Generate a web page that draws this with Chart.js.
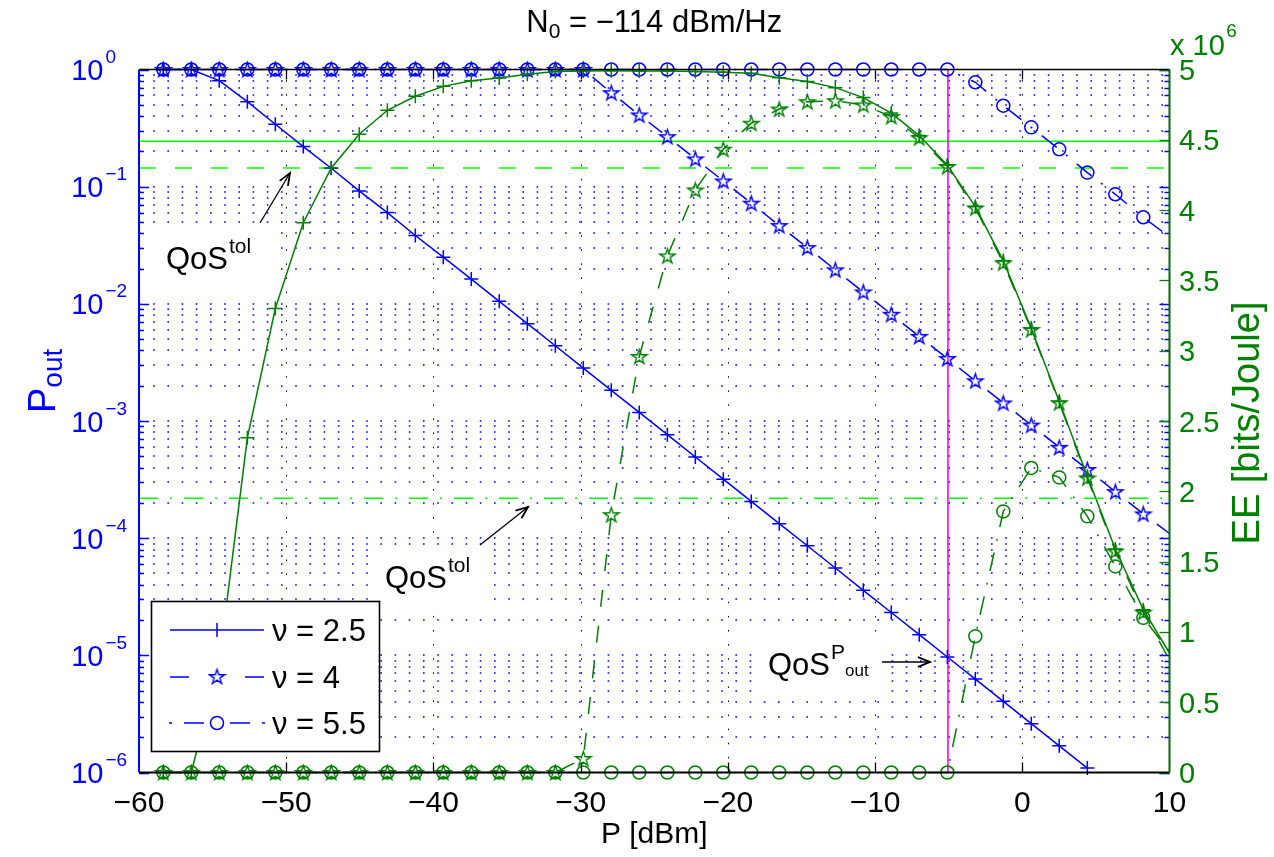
<!DOCTYPE html>
<html><head><meta charset="utf-8">
<script src="https://cdn.jsdelivr.net/npm/chart.js@4.4.0/dist/chart.umd.min.js"></script>
<style>html,body{margin:0;padding:0;background:#fff;}#wrap{width:1274px;height:857px;}</style>
</head><body><div id="wrap"><canvas id="c" width="1274" height="857"></canvas></div>
<script>
// ---------- data ----------
const pDbm = [-58.35,-56.45,-54.55,-52.64,-50.74,-48.84,-46.94,-45.04,-43.13,-41.23,-39.33,-37.43,-35.53,-33.62,-31.72,-29.82,-27.92,-26.02,-24.11,-22.21,-20.31,-18.41,-16.51,-14.60,-12.70,-10.80,-8.90,-7.00,-5.09,-3.19,-1.29,0.61,2.51,4.42,6.32,8.22,10];
const poutNu25 = [1,1,0.8028,0.5313,0.3412,0.2198,0.1436,0.0920,0.06012,0.03828,0.02500,0.01626,0.01050,0.006776,0.004385,0.002831,0.001828,0.001183,7.64e-4,4.93e-4,3.19e-4,2.06e-4,1.33e-4,8.61e-5,5.56e-5,3.59e-5,2.32e-5,1.50e-5,9.68e-6,6.27e-6,4.05e-6,2.61e-6,1.69e-6,1.09e-6,null,null,null];
const poutNu4 = [1,1,1,1,1,1,1,1,1,1,1,1,1,1,1,1,0.6339,0.4093,0.2673,0.1726,0.1119,0.07228,0.04656,0.03020,0.01950,0.01262,0.008147,0.005272,0.003412,0.002203,0.001426,0.0009226,0.0005957,0.0003855,0.0002495,0.0001611,0.0001096];
const poutNu55 = [1,1,1,1,1,1,1,1,1,1,1,1,1,1,1,1,1,1,1,1,1,1,1,1,1,1,1,1,1,0.778,0.491,0.321,0.2085,0.1318,0.0861,0.0548,0.0372];
const eeNu25 = [0,0,0.78,2.38,3.30,3.91,4.30,4.54,4.71,4.81,4.88,4.92,4.94,4.967,4.985,4.989,4.991,4.99,4.989,4.985,4.98,4.973,4.942,4.914,4.871,4.80,4.69,4.53,4.32,4.025,3.639,3.16,2.639,2.106,1.59,1.158,0.85];
const eeNu4 = [0,0,0,0,0,0,0,0,0,0,0,0,0,0,0,0.1,1.834,2.959,3.674,4.143,4.433,4.618,4.719,4.771,4.778,4.748,4.665,4.515,4.31,4.015,3.625,3.15,2.63,2.095,1.575,1.14,0.80];
const eeNu55 = [0,0,0,0,0,0,0,0,0,0,0,0,0,0,0,0,0,0,0,0,0,0,0,0,0,0,0,0,0,0.969,1.857,2.166,2.099,1.822,1.466,1.10,0.86];
const qosTolEE = [4.49, 4.30, 1.95];      // solid, dashed, dash-dot (x10^6)
const qosPoutP = -5.05;                    // dBm
const xTicks = [-60,-50,-40,-30,-20,-10,0,10];
const yDecades = [-6,-5,-4,-3,-2,-1,0];
const yMinorMant = [2,3,4,5,6,7,8,9];
const eeTicks = [0,0.5,1,1.5,2,2.5,3,3.5,4,4.5,5];
const eeTickLabels = ['0','0.5','1','1.5','2','2.5','3','3.5','4','4.5','5'];
const legendLabels = ['\u03bd = 2.5','\u03bd = 4','\u03bd = 5.5'];

// ---------- styles ----------
const BLUE='#0000ff', GREEN='#008000', LIME='#00ff00', MAG='#ff00ff', RGREEN='#006b00';
const FONT='"Liberation Sans", Arial, Helvetica, sans-serif';
const DASH=[17,19], DASHDOT=[19,12,2,12];
function starCanvas(color){
  const c=document.createElement('canvas'); c.width=c.height=19;
  const g=c.getContext('2d'); g.strokeStyle=color; g.lineWidth=1.4; g.lineJoin='miter';
  g.beginPath(); const R=7.8, r=3.0;
  for(let i=0;i<10;i++){ const a=-Math.PI/2+i*Math.PI/5; const rr=i%2?r:R;
    const px=9.5+rr*Math.cos(a), py=10.2+rr*Math.sin(a); i?g.lineTo(px,py):g.moveTo(px,py); }
  g.closePath(); g.stroke(); return c;
}
const starBlue=starCanvas(BLUE), starGreen=starCanvas(GREEN);
const lastIdx=pDbm.length-1;
const rad=r=>(c)=>c.dataIndex===lastIdx?0:r;
const pts=ys=>pDbm.map((x,i)=>({x, y: ys[i]}));
function series(ys, axis, color, style, dash, r){
  return {data:pts(ys), yAxisID:axis, borderColor:color, borderWidth:1.5, borderDash:dash, fill:false, tension:0,
    clip:false, pointStyle:style, pointRadius:rad(r), pointHoverRadius:0, pointBorderColor:color,
    pointBackgroundColor:'rgba(0,0,0,0)', pointBorderWidth:1.5};
}
const xMin=xTicks[0], xMax=xTicks[xTicks.length-1];
const yMin=Math.pow(10,yDecades[0]), yMax=Math.pow(10,yDecades[yDecades.length-1]);
function refLine(v, dash){
  return {data:[{x:xMin,y:v},{x:xMax,y:v}], yAxisID:'y2', borderColor:LIME, borderWidth:1.5, borderDash:dash, pointRadius:0, clip:false};
}
const datasets=[
  series(eeNu25,'y2',GREEN,'cross',[],7),
  series(eeNu4,'y2',GREEN,starGreen,DASH,7),
  series(eeNu55,'y2',GREEN,'circle',DASHDOT,6.5),
  series(poutNu25,'y',BLUE,'cross',[],7),
  series(poutNu4,'y',BLUE,starBlue,DASH,7),
  series(poutNu55,'y',BLUE,'circle',DASHDOT,6.5),
  {data:[{x:qosPoutP,y:yMin},{x:qosPoutP,y:yMax}], yAxisID:'y', borderColor:MAG, borderWidth:1.6, pointRadius:0, clip:false},
  refLine(qosTolEE[0],[]), refLine(qosTolEE[1],DASH), refLine(qosTolEE[2],DASHDOT)
];

// annotation boxes (text layout)
const annots=[
  {tx:166, ty:269, sup:'tol', box:[153,229,270,282], arrow:[260,223,290,173]},
  {tx:385, ty:588, sup:'tol', box:[370,545,487,605], arrow:[480,545,528,507]},
  {tx:768, ty:675, sup:'P', sub:'out', box:[760,639,879,692], arrow:[882,662,930,662]}
];

function arrowHead(ctx,x0,y0,x1,y1){
  const a=Math.atan2(y1-y0,x1-x0), L=13, w=0.38;
  ctx.beginPath();
  ctx.moveTo(x1-L*Math.cos(a-w), y1-L*Math.sin(a-w)); ctx.lineTo(x1,y1);
  ctx.lineTo(x1-L*Math.cos(a+w), y1-L*Math.sin(a+w)); ctx.stroke();
}

const deco={
  id:'deco',
  beforeDraw(chart){ const c=chart.ctx; c.save(); c.fillStyle='#fff'; c.fillRect(0,0,chart.width,chart.height); c.restore(); },
  beforeDatasetsDraw(chart){
    const {ctx, chartArea:a, scales:{x,y}}=chart;
    ctx.save();
    // horizontal dotted grid (blue)
    ctx.strokeStyle=BLUE; ctx.lineWidth=1.6; ctx.setLineDash([1.6,12.6]);
    const gv=[];
    yDecades.forEach(e=>{ gv.push(Math.pow(10,e)); if(e<0) yMinorMant.forEach(m=>gv.push(m*Math.pow(10,e))); });
    gv.forEach(v=>{ const py=Math.round(y.getPixelForValue(v)); if(py<=a.top+1||py>=a.bottom-1) return;
      ctx.beginPath(); ctx.moveTo(a.left,py); ctx.lineTo(a.right,py); ctx.stroke(); });
    // vertical dotted grid (black)
    ctx.strokeStyle='#000'; ctx.lineWidth=1; ctx.setLineDash([1.5,12.6]);
    xTicks.forEach(v=>{ const px=Math.round(x.getPixelForValue(v))+0.5; if(px<=a.left+2||px>=a.right-2) return;
      ctx.beginPath(); ctx.moveTo(px,a.bottom); ctx.lineTo(px,a.top); ctx.stroke(); });
    ctx.setLineDash([]);
    // white text boxes
    ctx.fillStyle='#fff';
    annots.forEach(o=>{ const b=o.box; ctx.fillRect(b[0],b[1],b[2]-b[0],b[3]-b[1]); });
    ctx.restore();
  },
  afterDatasetsDraw(chart){
    const {ctx, chartArea:a, scales:{x,y,y2}}=chart;
    ctx.save(); ctx.setLineDash([]);
    // tick marks
    ctx.lineWidth=1.3; ctx.strokeStyle='#000';
    xTicks.forEach(v=>{ const px=Math.round(x.getPixelForValue(v))+0.5; if(px<=a.left+2||px>=a.right-2) return;
      ctx.beginPath(); ctx.moveTo(px,a.bottom); ctx.lineTo(px,a.bottom-10); ctx.moveTo(px,a.top); ctx.lineTo(px,a.top+10); ctx.stroke(); });
    ctx.strokeStyle=BLUE; ctx.lineWidth=1.3;
    yDecades.forEach(e=>{
      const py=Math.round(y.getPixelForValue(Math.pow(10,e)))+0.5;
      ctx.beginPath(); ctx.moveTo(a.left,py); ctx.lineTo(a.left+10,py); ctx.moveTo(a.right,py); ctx.lineTo(a.right-10,py); ctx.stroke();
      if(e<0) yMinorMant.forEach(m=>{ const q=Math.round(y.getPixelForValue(m*Math.pow(10,e)))+0.5;
        ctx.beginPath(); ctx.moveTo(a.left,q); ctx.lineTo(a.left+5,q); ctx.moveTo(a.right,q); ctx.lineTo(a.right-5,q); ctx.stroke(); });
    });
    ctx.strokeStyle=GREEN; ctx.lineWidth=1.3;
    eeTicks.forEach(v=>{ const py=Math.round(y2.getPixelForValue(v))+0.5;
      ctx.beginPath(); ctx.moveTo(a.right,py); ctx.lineTo(a.right-10,py); ctx.stroke(); });
    // axis lines
    ctx.lineWidth=1.6; ctx.strokeStyle='#000';
    ctx.beginPath(); ctx.moveTo(a.left,a.top); ctx.lineTo(a.right,a.top); ctx.stroke();
    ctx.lineWidth=2;
    ctx.beginPath(); ctx.moveTo(a.left,a.bottom); ctx.lineTo(a.right,a.bottom); ctx.stroke();
    ctx.strokeStyle=BLUE; ctx.beginPath(); ctx.moveTo(a.left,a.top); ctx.lineTo(a.left,a.bottom); ctx.stroke();
    ctx.strokeStyle=RGREEN; ctx.beginPath(); ctx.moveTo(a.right,a.top); ctx.lineTo(a.right,a.bottom); ctx.stroke();

    // x tick labels
    ctx.fillStyle='#000'; ctx.textBaseline='alphabetic';
    ctx.font='30px '+FONT; ctx.textAlign='center';
    xTicks.forEach(v=>{ const px=x.getPixelForValue(v); ctx.fillText(v<0?'\u2212'+Math.abs(v):String(v), px, 811.5); });
    // left labels
    ctx.fillStyle=BLUE;
    yDecades.forEach(e=>{ const py=y.getPixelForValue(Math.pow(10,e));
      ctx.font='29px '+FONT; ctx.textAlign='right'; ctx.fillText('10',103.5,py+10.5);
      ctx.font='19px '+FONT; ctx.textAlign='left'; ctx.fillText(e<0?'\u2212'+(-e):String(e),105.5,py-6.5); });
    // right labels
    ctx.fillStyle=GREEN; ctx.font='29px '+FONT; ctx.textAlign='left';
    eeTicks.forEach((v,i)=>{ const py=y2.getPixelForValue(v); ctx.fillText(eeTickLabels[i],1179,py+10.5); });
    ctx.fillText('x 10',1170,55);
    const wx=ctx.measureText('x 10').width;
    ctx.font='19px '+FONT; ctx.fillText('6',1170+wx+1.5,37);

    // title
    ctx.fillStyle='#000';
    const tp=[['N',31,0],['0',21,6],[' = \u2212114 dBm/Hz',31,0]];
    let tw=0; tp.forEach(p=>{ctx.font=p[1]+'px '+FONT; tw+=ctx.measureText(p[0]).width;});
    let tx=(a.left+a.right)/2-tw/2; ctx.textAlign='left';
    tp.forEach(p=>{ctx.font=p[1]+'px '+FONT; ctx.fillText(p[0],tx,32+p[2]); tx+=ctx.measureText(p[0]).width;});
    // x title
    ctx.font='30px '+FONT; ctx.textAlign='center'; ctx.fillText('P [dBm]',(a.left+a.right)/2,843);
    // left y title
    ctx.save(); ctx.translate(55,413); ctx.rotate(-Math.PI/2);
    ctx.fillStyle=BLUE; ctx.textAlign='left';
    ctx.font='38px '+FONT; const wP=ctx.measureText('P').width; ctx.fillText('P',0,0);
    ctx.font='28px '+FONT; ctx.fillText('out',wP,7);
    ctx.restore();
    // right y title
    ctx.save(); ctx.translate(1259,(a.top+a.bottom)/2+2); ctx.rotate(-Math.PI/2);
    ctx.fillStyle=GREEN; ctx.font='38px '+FONT; ctx.textAlign='center'; ctx.fillText('EE [bits/Joule]',0,0);
    ctx.restore();

    // annotations
    ctx.fillStyle='#000'; ctx.strokeStyle='#000'; ctx.textAlign='left';
    annots.forEach(o=>{
      ctx.font='31px '+FONT; ctx.fillText('QoS',o.tx,o.ty); const w=ctx.measureText('QoS').width;
      ctx.font='21px '+FONT; ctx.fillText(o.sup,o.tx+w+1,o.ty-16);
      if(o.sub){ const ws=ctx.measureText(o.sup).width; ctx.font='17px '+FONT; ctx.fillText(o.sub,o.tx+w+1+ws,o.ty+1); }
      const ar=o.arrow; ctx.lineWidth=1.3; ctx.beginPath(); ctx.moveTo(ar[0],ar[1]); ctx.lineTo(ar[2],ar[3]); ctx.stroke();
      ctx.lineWidth=1.8; arrowHead(ctx,ar[0],ar[1],ar[2],ar[3]);
    });

    // legend
    const L=[151,601,379,751];
    ctx.fillStyle='#fff'; ctx.fillRect(L[0],L[1],L[2]-L[0],L[3]-L[1]);
    ctx.strokeStyle='#000'; ctx.lineWidth=1.6; ctx.strokeRect(L[0]+0.5,L[1]+0.5,L[2]-L[0],L[3]-L[1]);
    const rows=[630,677,723], mx=217;
    ctx.strokeStyle=BLUE; ctx.lineWidth=1.5;
    ctx.beginPath(); ctx.moveTo(170,rows[0]); ctx.lineTo(264,rows[0]);
    ctx.moveTo(mx-7,rows[0]); ctx.lineTo(mx+7,rows[0]); ctx.moveTo(mx,rows[0]-7); ctx.lineTo(mx,rows[0]+7); ctx.stroke();
    ctx.beginPath(); ctx.moveTo(170,rows[1]); ctx.lineTo(189,rows[1]); ctx.moveTo(245,rows[1]); ctx.lineTo(264,rows[1]); ctx.stroke();
    ctx.drawImage(starBlue,mx-9.5,rows[1]-10);
    ctx.beginPath(); ctx.moveTo(169,rows[2]); ctx.lineTo(172,rows[2]); ctx.moveTo(184,rows[2]); ctx.lineTo(204,rows[2]);
    ctx.moveTo(230,rows[2]); ctx.lineTo(250,rows[2]); ctx.moveTo(262,rows[2]); ctx.lineTo(265,rows[2]); ctx.stroke();
    ctx.beginPath(); ctx.arc(mx,rows[2],6.5,0,Math.PI*2); ctx.stroke();
    ctx.fillStyle='#000'; ctx.font='31px '+FONT; ctx.textAlign='left';
    legendLabels.forEach((t,i)=>ctx.fillText(t,272,rows[i]+11));
    ctx.restore();
  }
};

new Chart(document.getElementById('c'),{
  type:'line',
  data:{datasets},
  options:{
    responsive:false, animation:false, devicePixelRatio:1, events:[],
    layout:{padding:{left:139,top:69.5,right:104.5,bottom:84.5}},
    plugins:{legend:{display:false}, tooltip:{enabled:false}, title:{display:false}},
    scales:{
      x:{type:'linear', min:xMin, max:xMax, display:false},
      y:{type:'logarithmic', min:yMin, max:yMax, display:false},
      y2:{type:'linear', position:'right', min:eeTicks[0], max:eeTicks[eeTicks.length-1], display:false}
    }
  },
  plugins:[deco]
});
</script></body></html>
